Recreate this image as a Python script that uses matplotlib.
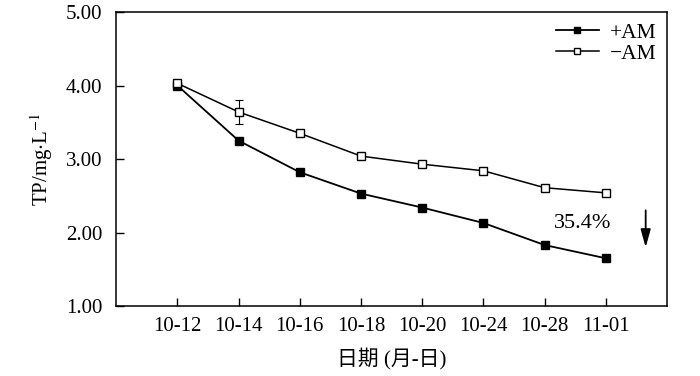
import matplotlib
matplotlib.use("Agg")
import matplotlib.pyplot as plt

plt.rcParams['font.family'] = ['Liberation Serif', 'Noto Sans CJK SC']
plt.rcParams['mathtext.fontset'] = 'stix'

# data
dates = ["10-12", "10-14", "10-16", "10-18", "10-20", "10-24", "10-28", "11-01"]
tp_plus_am = [4.00, 3.25, 2.82, 2.53, 2.34, 2.13, 1.83, 1.65]
tp_minus_am = [4.03, 3.64, 3.35, 3.04, 2.93, 2.84, 2.61, 2.54]
err_minus_am = [0, 0.16, 0, 0, 0, 0, 0, 0]

fig = plt.figure(figsize=(7.0, 3.76), dpi=100)
ax = fig.add_axes([0.166, 0.186, 0.787, 0.782])

x = list(range(len(dates)))
ax.plot(x, tp_plus_am, color="black", lw=1.3, marker="s", ms=5.5,
        mfc="black", mec="black", label="+AM", zorder=3)
ax.plot(x, tp_minus_am, color="black", lw=1.1, marker="s", ms=5.5,
        mfc="white", mec="black", label="\u2212AM", zorder=3)

# error bars only where the reference shows them
ex = [i for i, e in zip(x, err_minus_am) if e > 0]
ey = [v for v, e in zip(tp_minus_am, err_minus_am) if e > 0]
ee = [e for e in err_minus_am if e > 0]
ax.errorbar(ex, ey, yerr=ee, fmt="none", ecolor="black", elinewidth=0.8,
            capsize=3, capthick=0.8, zorder=2)

ax.set_xlim(-1, 8)
ax.set_ylim(1.0, 5.0)
ax.set_xticks(x)
ax.set_xticklabels(dates)
ax.set_yticks([1, 2, 3, 4, 5])
ax.set_yticklabels(["1.00", "2.00", "3.00", "4.00", "5.00"])
ax.tick_params(direction="in", length=6, width=1, labelsize=15)
ax.tick_params(axis="y", pad=10)
ax.tick_params(axis="x", pad=8)
for s in ax.spines.values():
    s.set_linewidth(1.1)

ax.set_ylabel(r"TP/mg$\cdot$L$^{-1}$", fontsize=15, labelpad=8)
ax.set_xlabel("日期 (月-日)", fontsize=15, labelpad=8)

ax.text(6.62, 2.12, "35.4%", fontsize=16, ha="center", va="center")
ax.annotate("", xy=(7.65, 1.76), xytext=(7.65, 2.34),
            arrowprops=dict(arrowstyle="-|>,head_length=0.9,head_width=0.25",
                            color="black", lw=1.3, mutation_scale=12))

leg = ax.legend(loc="upper right", frameon=False, fontsize=15.5,
                handlelength=2.0, borderaxespad=0.1, labelspacing=0.05,
                handletextpad=0.5, markerscale=0.75)

fig.savefig("out.png", dpi=100)
